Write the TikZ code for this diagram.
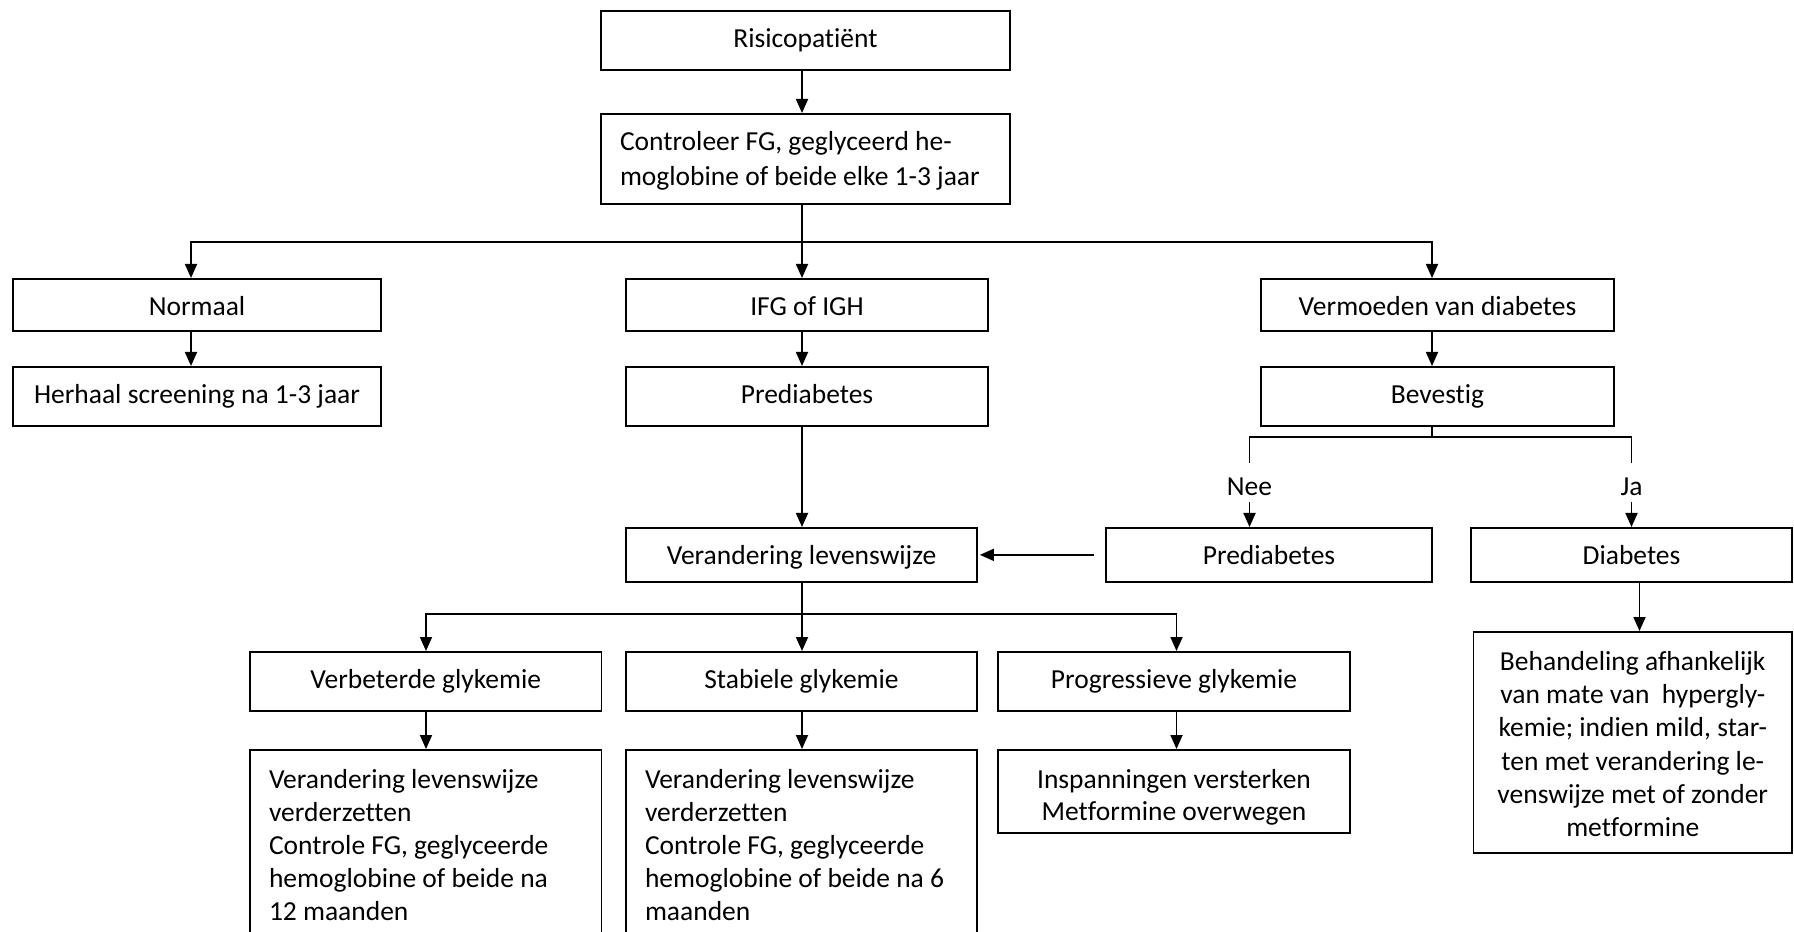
\documentclass[tikz,border=0pt]{standalone}
\usepackage{fontspec}
\setmainfont{Carlito}[Ligatures=NoCommon, RawFeature={-clig;-calt;-dlig}]
\usetikzlibrary{arrows.meta}
\begin{document}
\begin{tikzpicture}[x=0.4pt,y=-0.4pt,
  every node/.style={font=\fontsize{11pt}{13.2pt}\selectfont, inner sep=0pt},
  box/.style 2 args={draw, line width=0.7pt, fill=white, anchor=north, minimum width=#1*0.4pt, text height=14.7pt, text depth=#2pt},
  tbox/.style 2 args={draw, line width=0.7pt, fill=white, anchor=north, minimum width=#1*0.4pt, text height=15.4pt, text depth=#2pt},
  arr/.style={line width=0.7pt, -{Triangle[length=5.6pt,width=4.8pt]}},
  ln/.style={line width=0.7pt}]
\useasboundingbox (0,0) rectangle (1794,932);

% boxes
\node[box={409}{8.9}] (risico) at (805.5,10) {Risicopatiënt};
\node[draw, line width=0.7pt, fill=white, anchor=north, minimum width=409*0.4pt, text height=14.6pt, text depth=21.4pt] (control) at (805.5,113)
  {\parbox[t]{148.4pt}{\fontsize{11pt}{14pt}\selectfont\raggedright\mbox{Controleer FG, geglyceerd he-}\\\mbox{moglobine of beide elke 1-3 jaar}}};
\node[box={368}{6.1}] (normaal) at (197,278) {Normaal};
\node[box={368}{8.9}] (herhaal) at (197,366) {Herhaal screening na 1-3 jaar};
\node[box={362}{6.1}] (ifg) at (807,278) {IFG of IGH};
\node[box={362}{8.9}] (pre1) at (807,366) {Prediabetes};
\node[box={353}{6.1}] (verm) at (1437.5,278) {Vermoeden van diabetes};
\node[box={353}{8.9}] (bev) at (1437.5,366) {Bevestig};
\node[box={351}{6.9}] (verand) at (801.5,527) {Verandering levenswijze};
\node[box={326.5}{6.9}] (pre2) at (1269,527) {Prediabetes};
\node[box={321}{6.9}] (diab) at (1631.5,527) {Diabetes};
\node[box={351.5}{8.9}] (verb) at (425.75,651) {Verbeterde glykemie};
\node[box={351}{8.9}] (stab) at (801.5,651) {Stabiele glykemie};
\node[box={352}{8.9}] (prog) at (1174,651) {Progressieve glykemie};
\node[tbox={351.5}{80}] (verblow) at (425.75,749)
  {\parbox[t]{125.4pt}{\raggedright\mbox{Verandering levenswijze}\\\mbox{verderzetten}\\\mbox{Controle FG, geglyceerde}\\\mbox{hemoglobine of beide na}\\\mbox{12 maanden}}};
\node[tbox={351}{80}] (stablow) at (801.5,749)
  {\parbox[t]{125.2pt}{\raggedright\mbox{Verandering levenswijze}\\\mbox{verderzetten}\\\mbox{Controle FG, geglyceerde}\\\mbox{hemoglobine of beide na 6}\\\mbox{maanden}}};
\node[tbox={352}{17.8}] (proglow) at (1174,749)
  {\parbox[t]{140.8pt}{\fontsize{11pt}{12.8pt}\selectfont\centering\mbox{Inspanningen versterken}\\\mbox{Metformine overwegen}}};
\node[tbox={318.5}{73}] (behand) at (1632.75,631)
  {\parbox[t]{127.4pt}{\fontsize{11pt}{13.3pt}\selectfont\centering\mbox{Behandeling afhankelijk}\\\mbox{van mate van\ \ hypergly-}\\\mbox{kemie; indien mild, star-}\\\mbox{ten met verandering le-}\\\mbox{venswijze met of zonder}\\\mbox{metformine}}};

% labels
\node (nee) at (1249.5,487) {Nee};
\node (ja) at (1631.5,487) {Ja};

% helper coordinates
\coordinate (s1) at (802,242);
\coordinate (nl) at (191,242);
\coordinate (vr) at (1432,242);
\coordinate (b0) at (1432,437);
\coordinate (bn) at (1249.5,437);
\coordinate (bj) at (1631.5,437);
\coordinate (bn2) at (1249.5,463);
\coordinate (bj2) at (1631.5,463);
\coordinate (na) at (1249.5,502);
\coordinate (ja2) at (1631.5,502);
\coordinate (v0) at (802,614);
\coordinate (vl) at (426,614);
\coordinate (vr2) at (1176.5,614);
\coordinate (dx) at (1639.5,0);

% connectors
\draw[arr] (risico.south -| s1) -- (control.north -| s1);
\draw[arr] (control.south -| s1) -- (ifg.north -| s1);
\draw[arr] (s1) -- (nl) -- (normaal.north -| nl);
\draw[arr] (s1) -- (vr) -- (verm.north -| vr);
\draw[arr] (normaal.south -| nl) -- (herhaal.north -| nl);
\draw[arr] (ifg.south -| s1) -- (pre1.north -| s1);
\draw[arr] (verm.south -| vr) -- (bev.north -| vr);
\draw[arr] (pre1.south -| s1) -- (verand.north -| s1);
\draw[ln] (bev.south -| vr) -- (b0);
\draw[ln] (bn2) -- (bn) -- (bj) -- (bj2);
\draw[arr] (na) -- (pre2.north -| na);
\draw[arr] (ja2) -- (diab.north -| ja2);
\draw[arr, shorten <=4.4pt, shorten >=0.8pt] (pre2.west) -- (verand.east);
\draw[arr] (verand.south -| s1) -- (stab.north -| s1);
\draw[arr] (v0) -- (vl) -- (verb.north -| vl);
\draw[arr] (v0) -- (vr2) -- (prog.north -| vr2);
\draw[arr] (verb.south -| vl) -- (verblow.north -| vl);
\draw[arr] (stab.south -| s1) -- (stablow.north -| s1);
\draw[arr] (prog.south -| vr2) -- (proglow.north -| vr2);
\draw[arr] (diab.south -| dx) -- (behand.north -| dx);
\end{tikzpicture}
\end{document}
